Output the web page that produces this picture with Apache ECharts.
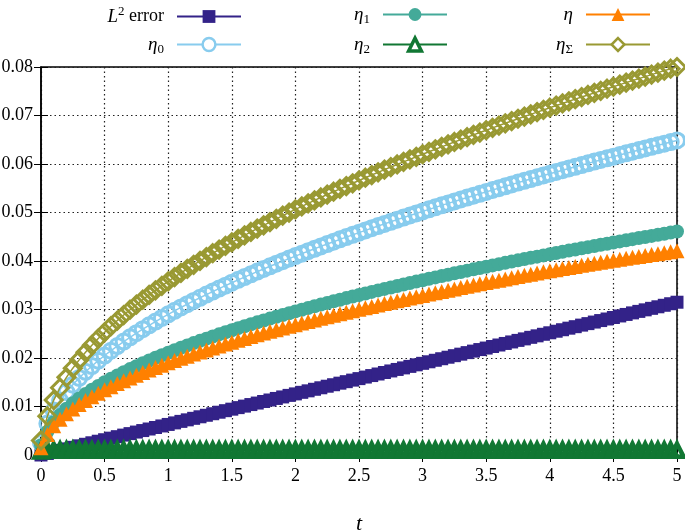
<!DOCTYPE html>
<html>
<head>
<meta charset="utf-8">
<script src="https://cdn.jsdelivr.net/npm/echarts@6/dist/echarts.min.js"></script>
<style>
html, body { margin: 0; padding: 0; background: #fff; }
#chart { width: 685px; height: 532px; }
</style>
</head>
<body>
<div id="chart"></div>
<script>
// time steps (t)
var tValues = [0, 0.05, 0.1, 0.15, 0.2, 0.25, 0.3, 0.35, 0.4, 0.45, 0.5, 0.55, 0.6, 0.65, 0.7, 0.75, 0.8, 0.85, 0.9, 0.95,
    1, 1.05, 1.1, 1.15, 1.2, 1.25, 1.3, 1.35, 1.4, 1.45, 1.5, 1.55, 1.6, 1.65, 1.7, 1.75, 1.8, 1.85, 1.9, 1.95,
    2, 2.05, 2.1, 2.15, 2.2, 2.25, 2.3, 2.35, 2.4, 2.45, 2.5, 2.55, 2.6, 2.65, 2.7, 2.75, 2.8, 2.85, 2.9, 2.95,
    3, 3.05, 3.1, 3.15, 3.2, 3.25, 3.3, 3.35, 3.4, 3.45, 3.5, 3.55, 3.6, 3.65, 3.7, 3.75, 3.8, 3.85, 3.9, 3.95,
    4, 4.05, 4.1, 4.15, 4.2, 4.25, 4.3, 4.35, 4.4, 4.45, 4.5, 4.55, 4.6, 4.65, 4.7, 4.75, 4.8, 4.85, 4.9, 4.95, 5];

var l2Error = [0, 0.00032, 0.00063, 0.00095, 0.00126, 0.00158, 0.00189, 0.00221, 0.00252, 0.00284, 0.00315, 0.00347, 0.00378, 0.0041, 0.00441, 0.00473, 0.00504, 0.00536, 0.00567, 0.00599,
    0.0063, 0.00662, 0.00693, 0.00725, 0.00756, 0.00788, 0.00819, 0.00851, 0.00882, 0.00914, 0.00945, 0.00977, 0.01008, 0.0104, 0.01071, 0.01103, 0.01134, 0.01166, 0.01197, 0.01229,
    0.0126, 0.01292, 0.01323, 0.01355, 0.01386, 0.01418, 0.01449, 0.01481, 0.01512, 0.01544, 0.01575, 0.01607, 0.01638, 0.0167, 0.01701, 0.01733, 0.01764, 0.01796, 0.01827, 0.01859,
    0.0189, 0.01922, 0.01953, 0.01985, 0.02016, 0.02048, 0.02079, 0.02111, 0.02142, 0.02174, 0.02205, 0.02237, 0.02268, 0.023, 0.02331, 0.02363, 0.02394, 0.02426, 0.02457, 0.02489,
    0.0252, 0.02552, 0.02583, 0.02615, 0.02646, 0.02678, 0.02709, 0.02741, 0.02772, 0.02804, 0.02835, 0.02867, 0.02898, 0.0293, 0.02961, 0.02993, 0.03024, 0.03056, 0.03087, 0.03119, 0.0315];

var eta0 = [0.0025, 0.00648, 0.00917, 0.01123, 0.01297, 0.0145, 0.01588, 0.01716, 0.01834, 0.01945, 0.02051, 0.02151, 0.02246, 0.02338, 0.02426, 0.02511, 0.02594, 0.02674, 0.02751, 0.02827,
    0.029, 0.02972, 0.03042, 0.0311, 0.03177, 0.03242, 0.03307, 0.0337, 0.03431, 0.03492, 0.03552, 0.03611, 0.03668, 0.03725, 0.03781, 0.03836, 0.03891, 0.03944, 0.03997, 0.0405,
    0.04101, 0.04152, 0.04202, 0.04252, 0.04301, 0.0435, 0.04398, 0.04446, 0.04493, 0.04539, 0.04585, 0.04631, 0.04676, 0.04721, 0.04765, 0.04809, 0.04853, 0.04896, 0.04938, 0.04981,
    0.05023, 0.05065, 0.05106, 0.05147, 0.05188, 0.05228, 0.05268, 0.05308, 0.05347, 0.05386, 0.05425, 0.05464, 0.05502, 0.0554, 0.05578, 0.05616, 0.05653, 0.0569, 0.05727, 0.05764,
    0.058, 0.05836, 0.05872, 0.05908, 0.05943, 0.05979, 0.06013, 0.06049, 0.06083, 0.06118, 0.06152, 0.06186, 0.0622, 0.06254, 0.06287, 0.0632, 0.06354, 0.06387, 0.06419, 0.06452, 0.06485];

var eta1 = [0.002, 0.00479, 0.00676, 0.00827, 0.00953, 0.01065, 0.01166, 0.01258, 0.01344, 0.01424, 0.015, 0.01572, 0.01641, 0.01707, 0.01771, 0.01832, 0.01891, 0.01948, 0.02004, 0.02058,
    0.0211, 0.02161, 0.02211, 0.0226, 0.02307, 0.02354, 0.02399, 0.02444, 0.02488, 0.02531, 0.02573, 0.02615, 0.02656, 0.02696, 0.02735, 0.02774, 0.02812, 0.0285, 0.02888, 0.02924,
    0.02961, 0.02996, 0.03032, 0.03067, 0.03101, 0.03135, 0.03169, 0.03202, 0.03235, 0.03267, 0.03299, 0.03331, 0.03363, 0.03394, 0.03425, 0.03455, 0.03486, 0.03516, 0.03545, 0.03575,
    0.03604, 0.03633, 0.03662, 0.0369, 0.03718, 0.03746, 0.03774, 0.03801, 0.03828, 0.03855, 0.03882, 0.03909, 0.03935, 0.03962, 0.03988, 0.04013, 0.04039, 0.04065, 0.0409, 0.04115,
    0.0414, 0.04165, 0.04189, 0.04214, 0.04238, 0.04262, 0.04286, 0.0431, 0.04334, 0.04357, 0.04381, 0.04404, 0.04427, 0.0445, 0.04473, 0.04496, 0.04518, 0.04541, 0.04563, 0.04586, 0.04608];

var eta2 = [0.0008, 0.001, 0.001, 0.001, 0.001, 0.001, 0.001, 0.001, 0.001, 0.001, 0.001, 0.001, 0.001, 0.001, 0.001, 0.001, 0.001, 0.001, 0.001, 0.001,
    0.001, 0.001, 0.001, 0.001, 0.001, 0.001, 0.001, 0.001, 0.001, 0.001, 0.001, 0.001, 0.001, 0.001, 0.001, 0.001, 0.001, 0.001, 0.001, 0.001,
    0.001, 0.001, 0.001, 0.001, 0.001, 0.001, 0.001, 0.001, 0.001, 0.001, 0.001, 0.001, 0.001, 0.001, 0.001, 0.001, 0.001, 0.001, 0.001, 0.001,
    0.001, 0.001, 0.001, 0.001, 0.001, 0.001, 0.001, 0.001, 0.001, 0.001, 0.001, 0.001, 0.001, 0.001, 0.001, 0.001, 0.001, 0.001, 0.001, 0.001,
    0.001, 0.001, 0.001, 0.001, 0.001, 0.001, 0.001, 0.001, 0.001, 0.001, 0.001, 0.001, 0.001, 0.001, 0.001, 0.001, 0.001, 0.001, 0.001, 0.001, 0.001];

var eta = [0.0015, 0.00425, 0.00601, 0.00736, 0.0085, 0.0095, 0.01041, 0.01124, 0.01202, 0.01275, 0.01343, 0.01409, 0.01472, 0.01532, 0.0159, 0.01645, 0.01699, 0.01752, 0.01803, 0.01852,
    0.019, 0.01947, 0.01993, 0.02038, 0.02081, 0.02124, 0.02166, 0.02208, 0.02248, 0.02288, 0.02327, 0.02366, 0.02403, 0.02441, 0.02477, 0.02514, 0.02549, 0.02584, 0.02619, 0.02653,
    0.02687, 0.0272, 0.02753, 0.02786, 0.02818, 0.0285, 0.02882, 0.02913, 0.02943, 0.02974, 0.03004, 0.03034, 0.03064, 0.03093, 0.03122, 0.03151, 0.03179, 0.03208, 0.03236, 0.03263,
    0.03291, 0.03318, 0.03345, 0.03372, 0.03399, 0.03425, 0.03452, 0.03478, 0.03503, 0.03529, 0.03555, 0.0358, 0.03605, 0.0363, 0.03655, 0.03679, 0.03704, 0.03728, 0.03752, 0.03776,
    0.038, 0.03822, 0.03844, 0.03866, 0.03888, 0.0391, 0.03931, 0.03952, 0.03973, 0.03994, 0.04015, 0.04035, 0.04055, 0.04075, 0.04095, 0.04114, 0.04133, 0.04152, 0.04171, 0.0419, 0.0421];

var etaSigma = [0.003, 0.008, 0.01132, 0.01387, 0.01601, 0.0179, 0.01961, 0.02118, 0.02264, 0.02401, 0.02531, 0.02655, 0.02773, 0.02886, 0.02995, 0.031, 0.03202, 0.03301, 0.03396, 0.03489,
    0.0358, 0.03668, 0.03755, 0.03839, 0.03922, 0.04002, 0.04082, 0.0416, 0.04236, 0.04311, 0.04384, 0.04457, 0.04528, 0.04599, 0.04668, 0.04736, 0.04803, 0.04869, 0.04935, 0.04999,
    0.05063, 0.05126, 0.05188, 0.05249, 0.0531, 0.0537, 0.05429, 0.05488, 0.05546, 0.05603, 0.0566, 0.05717, 0.05773, 0.05828, 0.05883, 0.05937, 0.0599, 0.06044, 0.06096, 0.06149,
    0.06201, 0.06252, 0.06303, 0.06354, 0.06404, 0.06454, 0.06503, 0.06552, 0.06601, 0.06649, 0.06697, 0.06745, 0.06793, 0.0684, 0.06886, 0.06933, 0.06979, 0.07024, 0.0707, 0.07115,
    0.0716, 0.07205, 0.07249, 0.07293, 0.07337, 0.07381, 0.07423, 0.07467, 0.07509, 0.07552, 0.07594, 0.07636, 0.07678, 0.0772, 0.07761, 0.07802, 0.07843, 0.07884, 0.07925, 0.07965, 0.08];

var seriesNames = ['L² error', 'η0', 'η1', 'η2', 'η', 'ηΣ'];
var seriesColors = ['#332288', '#88ccee', '#44aa99', '#117733', '#ff8000', '#999933'];

var serif = 'Liberation Serif';

function pairs(ys) {
    var out = [];
    for (var i = 0; i < tValues.length; i++) {
        out.push([tValues[i], ys[i]]);
    }
    return out;
}

// legend text: italic letter + sub/superscript
function legendLabel(name) {
    if (name === 'L² error') return '{i|L}{sup|2} error';
    if (name === 'η') return '{i|η}';
    return '{i|η}{sub|' + name.slice(1) + '}';
}

var legendRich = {
    i: { fontFamily: serif, fontStyle: 'italic', fontSize: 19, color: '#000' },
    sub: { fontFamily: serif, fontSize: 13, color: '#000', padding: [10, 0, 0, 0] },
    sup: { fontFamily: serif, fontSize: 13, color: '#000', padding: [0, 0, 10, 0] }
};

var symbols = ['rect', 'circle', 'circle', 'triangle', 'triangle', 'diamond'];
var hollow = [false, true, false, true, false, true];
var symbolSizes = [13, 15, 14, 13, 15, 17];
var borderWidths = [0, 3, 0, 4.5, 0, 3];
var allData = [l2Error, eta0, eta1, eta2, eta, etaSigma];

// one legend per item so they sit in a 3 x 2 grid like gnuplot's key
var legendSpots = [
    { right: 443, top: 5 },  // L² error
    { right: 443, top: 35 }, // η0
    { right: 237, top: 5 },  // η1
    { right: 237, top: 35 }, // η2
    { right: 34, top: 5 },   // η
    { right: 34, top: 35 }   // ηΣ
];

var legends = [];
for (var k = 0; k < seriesNames.length; k++) {
    var lg = {
        data: [seriesNames[k]],
        right: legendSpots[k].right,
        top: legendSpots[k].top,
        padding: 0,
        align: 'right',
        itemWidth: 64,
        itemHeight: 16,
        formatter: legendLabel,
        textStyle: { fontFamily: serif, fontSize: 18, color: '#000', padding: [0, 8, 0, 0], rich: legendRich }
    };
    if (hollow[k]) lg.itemStyle = { color: '#fff', borderWidth: k === 3 ? 3.5 : 2.5 };
    legends.push(lg);
}

var series = [];
for (var j = 0; j < seriesNames.length; j++) {
    series.push({
        name: seriesNames[j],
        type: 'line',
        data: pairs(allData[j]),
        symbol: symbols[j],
        symbolSize: symbolSizes[j],
        showAllSymbol: true,
        color: seriesColors[j],
        lineStyle: { width: hollow[j] ? (j === 3 ? 3 : 1.5) : 3, color: seriesColors[j] },
        itemStyle: {
            color: hollow[j] ? 'rgba(255,255,255,0)' : seriesColors[j],
            borderColor: seriesColors[j],
            borderWidth: borderWidths[j]
        },
        emphasis: { disabled: true },
        z: 2 + j
    });
}

var tickFont = { fontFamily: serif, fontSize: 18, color: '#000' };

var option = {
    animation: false,
    backgroundColor: '#fff',
    legend: legends,
    grid: {
        left: 41, right: 8, top: 67, bottom: 77,
        outerBoundsMode: 'none', containLabel: false,
        show: true, borderColor: '#000', borderWidth: 1.5
    },
    xAxis: [
        {
            type: 'value', min: 0, max: 5, interval: 0.5,
            name: 't', nameLocation: 'middle', nameGap: 58,
            nameTextStyle: { fontFamily: serif, fontStyle: 'italic', fontSize: 22, color: '#000' },
            axisLine: { show: true, lineStyle: { color: '#000', width: 1.5 } },
            axisTick: { show: true, inside: true, length: 7, lineStyle: { color: '#000' } },
            axisLabel: Object.assign({ margin: 12 }, tickFont),
            splitLine: { show: true, lineStyle: { color: '#222', type: [1.5, 3], width: 1.2 } }
        },
        {
            type: 'value', min: 0, max: 5, interval: 0.5, position: 'top',
            axisLine: { show: false },
            axisTick: { show: true, inside: true, length: 7, lineStyle: { color: '#000' } },
            axisLabel: { show: false },
            splitLine: { show: false }
        }
    ],
    yAxis: [
        {
            type: 'value', min: 0, max: 0.08, interval: 0.01,
            axisLine: { show: true, lineStyle: { color: '#000', width: 1.5 } },
            axisTick: { show: true, inside: true, length: 7, lineStyle: { color: '#000' } },
            axisLabel: Object.assign({
                margin: 8,
                formatter: function (v) { return v === 0 ? '0' : v.toFixed(2); }
            }, tickFont),
            splitLine: { show: true, lineStyle: { color: '#222', type: [1.5, 3], width: 1.2 } }
        },
        {
            type: 'value', min: 0, max: 0.08, interval: 0.01, position: 'right',
            axisLine: { show: false },
            axisTick: { show: true, inside: true, length: 7, lineStyle: { color: '#000' } },
            axisLabel: { show: false },
            splitLine: { show: false }
        }
    ],
    series: series
};

var myChart = echarts.init(document.getElementById('chart'));
myChart.setOption(option);
</script>
</body>
</html>
